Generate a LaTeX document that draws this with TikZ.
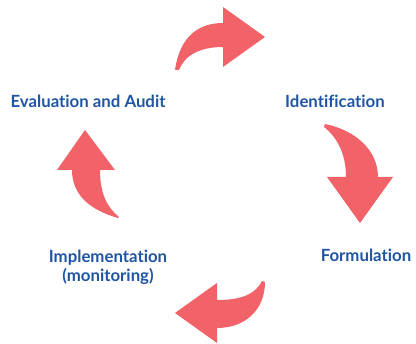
\documentclass[tikz,border=0pt]{standalone}
\usepackage{fontspec}
\setmainfont{Lato}[Ligatures=NoCommon]
\definecolor{arrowred}{HTML}{F26369}
\definecolor{stepblue}{HTML}{1F55A3}
\begin{document}
\begin{tikzpicture}[x=1pt,y=-1pt,
    steplabel/.style={text=stepblue, font=\bfseries\fontsize{16.8}{19}\selectfont, align=center, inner sep=0pt},
    bentarrow/.style={fill=arrowred, draw=none}]
        \useasboundingbox (0,0) rectangle (416,344);

        % Etichette delle fasi
        \node[steplabel] (evaluation) at (88,101) {Evaluation and Audit};
        \node[steplabel] (identification) at (335,101) {Identification};
        \node[steplabel] (formulation) at (366,255) {Formulation};
        \node[steplabel] (implementation) at (108,267) {Implementation\\(monitoring)};

        % Frecce curve del ciclo
        \fill[bentarrow] (175,70) .. controls (180,35) and (200,23) .. (223,23)
            -- (223,7) -- (265,37) -- (223,67) -- (223,47)
            .. controls (200,47) and (185,55) .. (179,70) -- cycle;
        \fill[bentarrow] (325,124) .. controls (355,130) and (378,150) .. (378,177)
            -- (393,177) -- (360,223) -- (327,177) -- (346,177)
            .. controls (346,155) and (338,138) .. (324,127) -- cycle;
        \fill[bentarrow] (262,281) .. controls (255,295) and (240,300) .. (217,300)
            -- (217,283) -- (175,313) -- (217,343) -- (217,328)
            .. controls (245,328) and (265,310) .. (265,282) -- cycle;
        \fill[bentarrow] (118,218) .. controls (90,210) and (72,195) .. (72,170)
            -- (57,170) -- (85,130) -- (115,170) -- (100,170)
            .. controls (100,195) and (108,208) .. (119,217) -- cycle;
\end{tikzpicture}
\end{document}
